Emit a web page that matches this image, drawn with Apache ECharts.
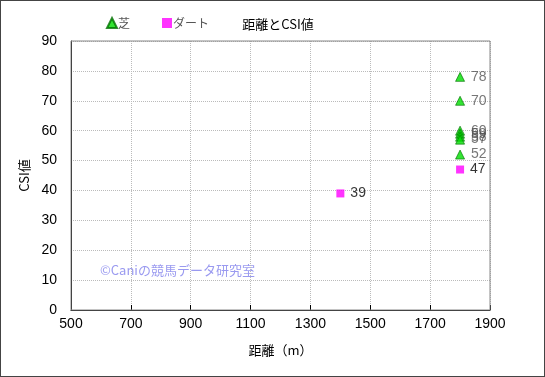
<!DOCTYPE html>
<html>
<head>
<meta charset="utf-8">
<script src="https://cdn.jsdelivr.net/npm/echarts@6/dist/echarts.min.js"></script>
<style>
  html, body { margin: 0; padding: 0; background: #fff; }
  #chart { width: 543px; height: 375px; border: 1px solid #444; }
</style>
</head>
<body>
<div id="chart"></div>
<script>
// 芝
const turfDist = [1800, 1800, 1800, 1800, 1800, 1800, 1800];
const turfCsi = [78, 70, 60, 59, 58, 57, 52];
// ダート
const dirtDist = [1400, 1800];
const dirtCsi = [39, 47];

const xTicks = [500, 700, 900, 1100, 1300, 1500, 1700, 1900];

const font = '"Noto Sans CJK JP", sans-serif';
const numFont = '"Liberation Sans", Arial, sans-serif';

const myChart = echarts.init(document.getElementById('chart'));
const option = {
    animation: false,
    title: {
        text: '距離とCSI値',
        left: 272,
        top: 12,
        textAlign: 'center',
        textStyle: { fontSize: 13, fontWeight: 'normal', color: '#000', fontFamily: font }
    },
    legend: {
        left: 100,
        top: 11,
        itemGap: 32,
        itemWidth: 10,
        itemHeight: 10,
        textStyle: { fontSize: 12, color: '#555', fontFamily: font, padding: [0, 0, 0, -4] },
        data: ['芝', 'ダート']
    },
    grid: { left: 70, right: 54, top: 40, bottom: 66 },
    graphic: [{
        type: 'text',
        left: 99,
        top: 263,
        style: { text: '©Caniの競馬データ研究室', fontSize: 13, fill: '#9a9af0', fontFamily: font }
    }],
    xAxis: {
        type: 'value',
        min: xTicks[0],
        max: xTicks[xTicks.length - 1],
        interval: 200,
        name: '距離（m）',
        nameLocation: 'middle',
        nameGap: 34,
        nameTextStyle: { fontSize: 13, color: '#000', fontFamily: font },
        axisLine: { lineStyle: { color: '#000' } },
        axisTick: { inside: true, length: 5, lineStyle: { color: '#000' } },
        axisLabel: { fontSize: 14, color: '#000', margin: 7, fontFamily: numFont, formatter: v => String(v) },
        splitLine: { lineStyle: { color: '#bbb', type: 'dotted' } }
    },
    yAxis: {
        type: 'value',
        min: 0,
        max: 90,
        interval: 10,
        name: 'CSI値',
        nameLocation: 'middle',
        nameGap: 36,
        nameTextStyle: { fontSize: 13, color: '#000', fontFamily: font },
        axisLine: { show: true, lineStyle: { color: '#000' } },
        axisTick: { show: false },
        axisLabel: { fontSize: 14, color: '#000', margin: 14, fontFamily: numFont },
        splitLine: { lineStyle: { color: '#bbb', type: 'dotted' } }
    },
    series: [
        {
            name: '芝',
            type: 'scatter',
            symbol: 'triangle',
            symbolSize: 9,
            itemStyle: { color: '#00dd00', borderColor: '#007000', borderWidth: 0.8 },
            label: { show: true, position: 'right', distance: 6, fontSize: 14, color: '#555', fontFamily: numFont, formatter: p => p.value[1] },
            data: turfDist.map((d, i) => [d, turfCsi[i]])
        },
        {
            name: 'ダート',
            type: 'scatter',
            symbol: 'rect',
            symbolSize: 8,
            itemStyle: { color: '#ff00ff' },
            label: { show: true, position: 'right', distance: 6, fontSize: 14, color: '#000', fontFamily: numFont, formatter: p => p.value[1] },
            data: dirtDist.map((d, i) => [d, dirtCsi[i]])
        },
        {
            // plot area frame
            type: 'line',
            data: [],
            markArea: {
                silent: true,
                itemStyle: { color: 'transparent', borderColor: '#888', borderWidth: 1 },
                data: [[{ coord: [500, 0] }, { coord: [1900, 90] }]]
            }
        }
    ]
};
myChart.setOption(option);
</script>
</body>
</html>
